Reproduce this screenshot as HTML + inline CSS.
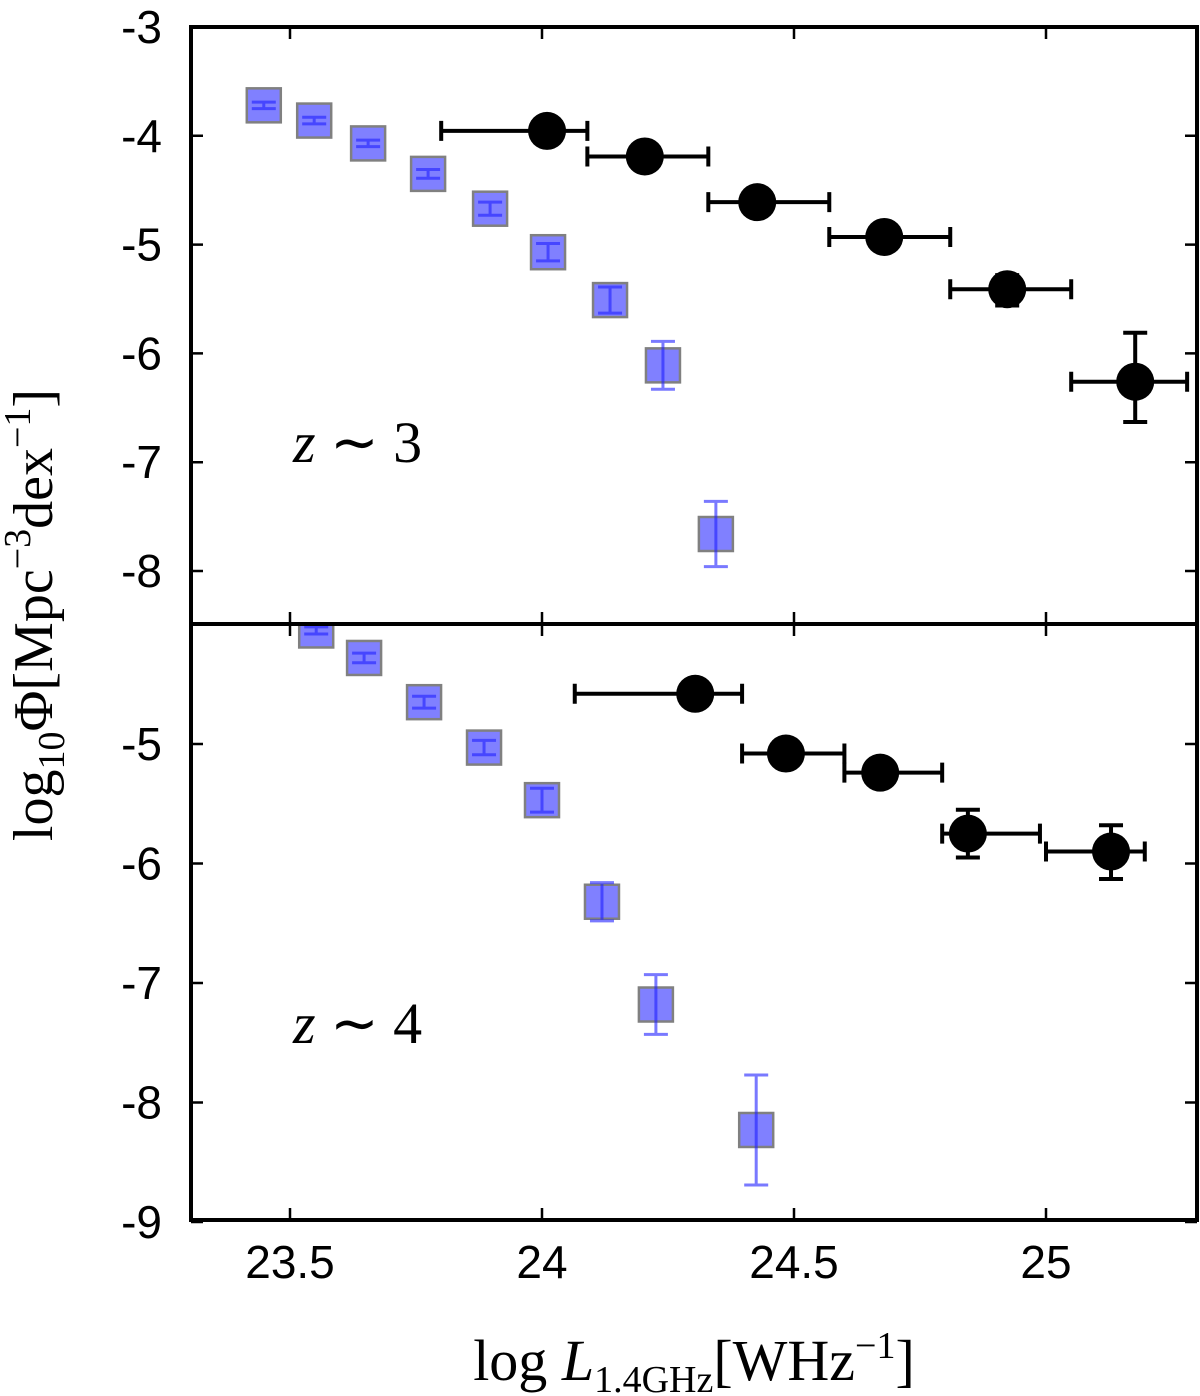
<!DOCTYPE html>
<html><head><meta charset="utf-8"><style>body{margin:0;background:#fff}svg{display:block}</style></head>
<body>
<svg id="chart" width="1200" height="1396" xmlns="http://www.w3.org/2000/svg" font-family="Liberation Sans, sans-serif"></svg>
<script>
const xTicks=[23.5,24,24.5,25];
const topYTicks=[-3,-4,-5,-6,-7,-8];
const botYTicks=[-5,-6,-7,-8,-9];
const topSqX=[23.448,23.548,23.655,23.774,23.897,24.012,24.135,24.24,24.345];
const topSqY=[-3.72,-3.86,-4.07,-4.35,-4.67,-5.07,-5.51,-6.11,-7.66];
const topSqE=[0.03,0.03,0.03,0.04,0.06,0.08,0.12,0.22,0.3];
const topCX=[24.01,24.204,24.427,24.679,24.923,25.177];
const topCY=[-3.955,-4.19,-4.61,-4.93,-5.41,-6.26];
const topCXlo=[23.8,24.09,24.33,24.57,24.81,25.05];
const topCXhi=[24.09,24.33,24.57,24.81,25.05,25.28];
const topCEup=[0,0,0,0,0.13,0.45];
const topCEdn=[0,0,0,0,0.15,0.37];
const botSqX=[23.552,23.647,23.766,23.885,24.0,24.119,24.226,24.425];
const botSqY=[-4.05,-4.28,-4.65,-5.03,-5.47,-6.32,-7.18,-8.23];
const botSqE=[0.03,0.04,0.05,0.06,0.1,0.16,0.25,0.46];
const botCX=[24.304,24.484,24.671,24.845,25.129];
const botCY=[-4.58,-5.08,-5.24,-5.75,-5.9];
const botCXlo=[24.065,24.397,24.6,24.794,25.0];
const botCXhi=[24.397,24.6,24.794,24.988,25.196];
const botCEup=[0,0,0,0.2,0.22];
const botCEdn=[0,0,0,0.2,0.23];

const svg=document.getElementById('chart');
const NS='http://www.w3.org/2000/svg';
const L=191,R=1197,T1=27,M=624,B2=1220;
const X=v=>290+(v-23.5)*504;
const Y1=v=>27+(-3-v)*108.8;
const Y2=v=>744+(-5-v)*119.5;
function el(tag,attrs,parent){const e=document.createElementNS(NS,tag);for(const k in attrs)e.setAttribute(k,attrs[k]);(parent||svg).appendChild(e);return e;}
const defs=el('defs',{});
const c1=el('clipPath',{id:'c1'},defs);el('rect',{x:L,y:T1,width:R-L,height:M-T1},c1);
const c2=el('clipPath',{id:'c2'},defs);el('rect',{x:L,y:M,width:R-L,height:B2-M},c2);

function panel(Y,clip,sx,sy,se,cx,cy,lo,hi,eu,ed,name){
  const g=el('g',{'clip-path':'url(#'+clip+')'});
  
  
  sx.forEach((v,i)=>{
    const px=X(v),py=Y(sy[i]);
    const r=el('rect',{x:px-17,y:py-17,width:34,height:34,fill:'#8080ff',stroke:'#808080','stroke-width':2.5},g);
    
    
    const y1=Y(sy[i]+se[i]),y2=Y(sy[i]-se[i]);
    const eb=el('path',{d:`M${px},${y1}V${y2}M${px-12},${y1}H${px+12}M${px-12},${y2}H${px+12}`,stroke:'#2020ff','stroke-opacity':0.6,'stroke-width':3,fill:'none'},g);
    
    
  });
  cx.forEach((v,i)=>{
    const px=X(v),py=Y(cy[i]),a=X(lo[i]),b=X(hi[i]);
    let d=`M${a},${py}H${b}M${a},${py-10}V${py+10}M${b},${py-10}V${py+10}`;
    if(eu[i]>0){const u=Y(cy[i]+eu[i]),w=Y(cy[i]-ed[i]);d+=`M${px},${u}V${w}M${px-12},${u}H${px+12}M${px-12},${w}H${px+12}`;}
    const eb=el('path',{d,stroke:'#000','stroke-width':4,fill:'none'},g);
    
    
    const c=el('circle',{cx:px,cy:py,r:19,fill:'#000'},g);
    
    
  });
}
panel(Y1,'c1',topSqX,topSqY,topSqE,topCX,topCY,topCXlo,topCXhi,topCEup,topCEdn,'z3');
panel(Y2,'c2',botSqX,botSqY,botSqE,botCX,botCY,botCXlo,botCXhi,botCEup,botCEdn,'z4');

const fr=el('path',{d:`M${L},${T1}H${R}V${B2}H${L}Z M${L},${M}H${R}`,stroke:'#000','stroke-width':4,fill:'none'});


let d='';
xTicks.forEach(v=>{const x=X(v);d+=`M${x},${T1}v12M${x},${M-12}v24M${x},${B2}v-12`;});
topYTicks.forEach(v=>{const y=Y1(v);d+=`M${L},${y}h12M${R},${y}h-12`;});
botYTicks.forEach(v=>{const y=Y2(v);d+=`M${L},${y}h12M${R},${y}h-12`;});
const tk=el('path',{d,stroke:'#000','stroke-width':2.5,fill:'none'});


function txt(s,x,y,anchor,size,name,extra){const t=el('text',Object.assign({x,y,'text-anchor':anchor,'font-size':size,fill:'#000'},extra||{}));t.textContent=s;

return t;}
xTicks.forEach(v=>txt(String(v),X(v),1278,'middle',46,'x-tick-label'));
topYTicks.forEach(v=>txt(String(v),162,Y1(v)+16,'end',46,'y-tick-label'));
botYTicks.forEach(v=>txt(String(v),162,Y2(v)+16,'end',46,'y-tick-label'));
const serif={'font-family':'Liberation Serif, serif'};
const a1=txt('',293,462,'start',58,'panel-label-z3',serif);a1.innerHTML='<tspan font-style="italic">z</tspan>  ∼  3';
a1.setAttribute('xml:space','preserve');
const a2=txt('',293,1043,'start',58,'panel-label-z4',serif);a2.innerHTML='<tspan font-style="italic">z</tspan>  ∼  4';
a2.setAttribute('xml:space','preserve');
const xl=txt('',694,1380,'middle',58,'x-axis-title',serif);
xl.innerHTML='log <tspan font-style="italic">L</tspan><tspan font-size="38" dy="12">1.4GHz</tspan><tspan dy="-12">[WHz</tspan><tspan font-size="38" dy="-22">−1</tspan><tspan dy="22">]</tspan>';
const yl=txt('',0,0,'middle',56,'y-axis-title',Object.assign({transform:'translate(52,615) rotate(-90)'},serif));
yl.innerHTML='log<tspan font-size="38" dy="12">10</tspan><tspan dy="-12">Φ[Mpc</tspan><tspan font-size="38" dy="-22">−3</tspan><tspan dy="22">dex</tspan><tspan font-size="38" dy="-22">−1</tspan><tspan dy="22">]</tspan>';
</script>
</body></html>
